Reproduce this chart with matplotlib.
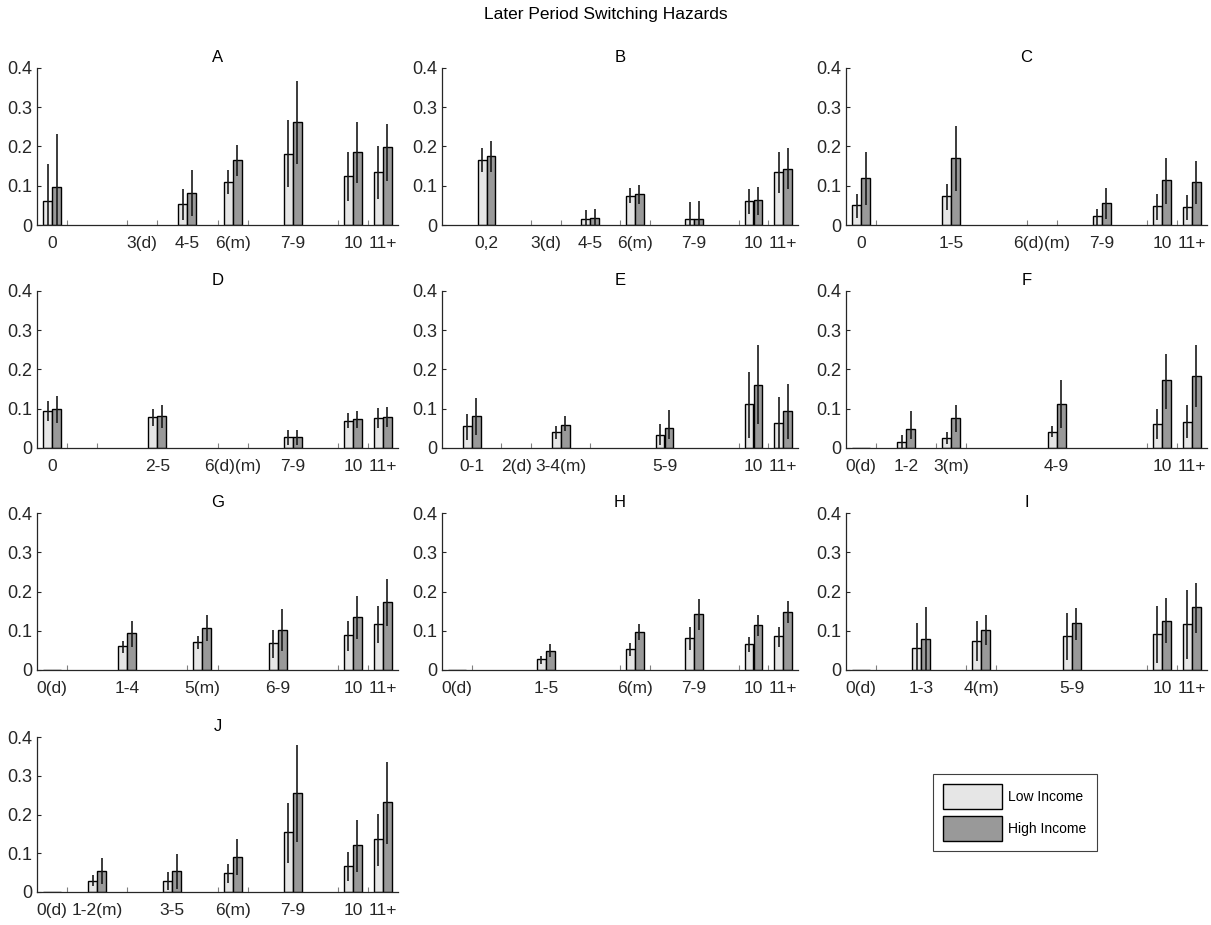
import numpy as np
import matplotlib.pyplot as plt
from matplotlib.patches import Patch

plt.rcParams['font.family'] = ['Liberation Sans', 'DejaVu Sans']

nan = np.nan

# group edges on the 0-12 axis, group labels, bar heights and CI bounds (low / high income)
A_edges = [0, 1, 3, 4, 6, 7, 10, 11, 12]
A_labels = ["0", "", "3(d)", "4-5", "6(m)", "7-9", "10", "11+"]
A_low = [0.062, nan, nan, 0.054, 0.110, 0.182, 0.125, 0.134]
A_high = [0.096, nan, nan, 0.082, 0.165, 0.262, 0.185, 0.198]
A_low_ci = [(0, 0.155), None, None, (0.013, 0.091), (0.079, 0.140), (0.098, 0.267), (0.062, 0.185), (0.066, 0.201)]
A_high_ci = [(0, 0.232), None, None, (0.023, 0.140), (0.126, 0.203), (0.156, 0.366), (0.106, 0.262), (0.111, 0.257)]

B_edges = [0, 3, 4, 6, 7, 10, 11, 12]
B_labels = ["0,2", "3(d)", "4-5", "6(m)", "7-9", "10", "11+"]
B_low = [0.166, nan, 0.016, 0.073, 0.016, 0.060, 0.134]
B_high = [0.176, nan, 0.018, 0.078, 0.016, 0.064, 0.143]
B_low_ci = [(0.134, 0.197), None, (0, 0.037), (0.055, 0.093), (0, 0.059), (0.028, 0.091), (0.081, 0.186)]
B_high_ci = [(0.134, 0.213), None, (0, 0.040), (0.054, 0.102), (0, 0.062), (0.026, 0.096), (0.091, 0.196)]

C_edges = [0, 1, 6, 7, 10, 11, 12]
C_labels = ["0", "1-5", "6(d)(m)", "7-9", "10", "11+"]
C_low = [0.051, 0.074, nan, 0.023, 0.048, 0.046]
C_high = [0.119, 0.171, nan, 0.057, 0.114, 0.110]
C_low_ci = [(0.019, 0.079), (0.038, 0.105), None, (0, 0.041), (0.013, 0.079), (0.013, 0.077)]
C_high_ci = [(0.051, 0.186), (0.087, 0.253), None, (0.016, 0.094), (0.054, 0.171), (0.054, 0.163)]

D_edges = [0, 1, 2, 6, 7, 10, 11, 12]
D_labels = ["0", "", "2-5", "6(d)(m)", "7-9", "10", "11+"]
D_low = [0.095, nan, 0.079, nan, 0.027, 0.070, 0.077]
D_high = [0.099, nan, 0.082, nan, 0.028, 0.074, 0.080]
D_low_ci = [(0.069, 0.120), None, (0.056, 0.099), None, (0.007, 0.045), (0.052, 0.090), (0.050, 0.102)]
D_high_ci = [(0.064, 0.132), None, (0.051, 0.110), None, (0.007, 0.047), (0.050, 0.095), (0.053, 0.104)]

E_edges = [0, 2, 3, 5, 10, 11, 12]
E_labels = ["0-1", "2(d)", "3-4(m)", "5-9", "10", "11+"]
E_low = [0.055, nan, 0.040, 0.033, 0.113, 0.064]
E_high = [0.082, nan, 0.059, 0.051, 0.161, 0.095]
E_low_ci = [(0.020, 0.087), None, (0.022, 0.056), (0.007, 0.060), (0.026, 0.194), (0, 0.129)]
E_high_ci = [(0.034, 0.127), None, (0.044, 0.082), (0.022, 0.096), (0.060, 0.262), (0.024, 0.164)]

F_edges = [0, 1, 3, 4, 10, 11, 12]
F_labels = ["0(d)", "1-2", "3(m)", "4-9", "10", "11+"]
F_low = [0, 0.016, 0.026, 0.041, 0.062, 0.067]
F_high = [0, 0.048, 0.076, 0.113, 0.172, 0.184]
F_low_ci = [None, (0, 0.032), (0.011, 0.041), (0.028, 0.055), (0.023, 0.099), (0.025, 0.110)]
F_high_ci = [None, (0.022, 0.094), (0.040, 0.110), (0.052, 0.172), (0.099, 0.240), (0.104, 0.262)]

G_edges = [0, 1, 5, 6, 10, 11, 12]
G_labels = ["0(d)", "1-4", "5(m)", "6-9", "10", "11+"]
G_low = [0, 0.062, 0.071, 0.068, 0.089, 0.117]
G_high = [0, 0.093, 0.106, 0.103, 0.134, 0.172]
G_low_ci = [None, (0.044, 0.075), (0.053, 0.086), (0.030, 0.103), (0.049, 0.126), (0.068, 0.163)]
G_high_ci = [None, (0.059, 0.126), (0.074, 0.139), (0.049, 0.156), (0.080, 0.188), (0.111, 0.232)]

H_edges = [0, 1, 6, 7, 10, 11, 12]
H_labels = ["0(d)", "1-5", "6(m)", "7-9", "10", "11+"]
H_low = [0, 0.028, 0.053, 0.082, 0.065, 0.087]
H_high = [0, 0.048, 0.097, 0.142, 0.114, 0.148]
H_low_ci = [None, (0.015, 0.036), (0.036, 0.069), (0.051, 0.110), (0.045, 0.084), (0.058, 0.110)]
H_high_ci = [None, (0.032, 0.065), (0.076, 0.116), (0.102, 0.181), (0.086, 0.139), (0.119, 0.177)]

I_edges = [0, 1, 4, 5, 10, 11, 12]
I_labels = ["0(d)", "1-3", "4(m)", "5-9", "10", "11+"]
I_low = [0, 0.057, 0.074, 0.086, 0.092, 0.117]
I_high = [0, 0.080, 0.103, 0.119, 0.126, 0.160]
I_low_ci = [None, (0, 0.121), (0.023, 0.125), (0.025, 0.146), (0.017, 0.163), (0.027, 0.203)]
I_high_ci = [None, (0, 0.161), (0.064, 0.140), (0.076, 0.158), (0.068, 0.183), (0.095, 0.221)]

J_edges = [0, 1, 3, 6, 7, 10, 11, 12]
J_labels = ["0(d)", "1-2(m)", "3-5", "6(m)", "7-9", "10", "11+"]
J_low = [0, 0.029, 0.029, 0.049, 0.154, 0.068, 0.136]
J_high = [0, 0.054, 0.054, 0.090, 0.255, 0.121, 0.231]
J_low_ci = [None, (0.015, 0.045), (0.006, 0.051), (0.023, 0.072), (0.076, 0.229), (0.028, 0.104), (0.066, 0.201)]
J_high_ci = [None, (0.021, 0.087), (0.008, 0.098), (0.043, 0.136), (0.128, 0.380), (0.051, 0.187), (0.124, 0.336)]

panels = [
    ("A", A_edges, A_labels, A_low, A_high, A_low_ci, A_high_ci),
    ("B", B_edges, B_labels, B_low, B_high, B_low_ci, B_high_ci),
    ("C", C_edges, C_labels, C_low, C_high, C_low_ci, C_high_ci),
    ("D", D_edges, D_labels, D_low, D_high, D_low_ci, D_high_ci),
    ("E", E_edges, E_labels, E_low, E_high, E_low_ci, E_high_ci),
    ("F", F_edges, F_labels, F_low, F_high, F_low_ci, F_high_ci),
    ("G", G_edges, G_labels, G_low, G_high, G_low_ci, G_high_ci),
    ("H", H_edges, H_labels, H_low, H_high, H_low_ci, H_high_ci),
    ("I", I_edges, I_labels, I_low, I_high, I_low_ci, I_high_ci),
    ("J", J_edges, J_labels, J_low, J_high, J_low_ci, J_high_ci),
]

LIGHT = "#e6e6e6"
DARK = "#999999"
AXC = "#262626"

W, H = 1211, 925
fig = plt.figure(figsize=(W / 100, H / 100), dpi=100)

# axes boxes in pixels
cols = [(37, 398), (442, 798), (846, 1207)]
rows = [(68, 225), (291, 448), (513, 670), (737, 892)]

bw = 0.3
for i, (name, edges, labels, low, high, low_ci, high_ci) in enumerate(panels):
    r, c = divmod(i, 3)
    x0, x1 = cols[c]
    t, b = rows[r]
    ax = fig.add_axes([x0 / W, 1 - b / H, (x1 - x0) / W, (b - t) / H])

    edges = np.array(edges, dtype=float)
    centers = (edges[:-1] + edges[1:]) / 2
    low = np.array(low, dtype=float)
    high = np.array(high, dtype=float)

    ok = ~np.isnan(low)
    ax.bar(centers[ok] - bw / 2, low[ok], width=bw, color=LIGHT, edgecolor="black", linewidth=1.0, zorder=2)
    ax.bar(centers[ok] + bw / 2, high[ok], width=bw, color=DARK, edgecolor="black", linewidth=1.0, zorder=2)

    for xc, lo_ci, hi_ci in zip(centers, low_ci, high_ci):
        if lo_ci is not None:
            ax.vlines(xc - bw / 2, lo_ci[0], lo_ci[1], color="#1a1a1a", linewidth=1.2, zorder=3)
        if hi_ci is not None:
            ax.vlines(xc + bw / 2, hi_ci[0], hi_ci[1], color="#1a1a1a", linewidth=1.2, zorder=3)

    ax.set_xlim(0, 12)
    ax.set_ylim(0, 0.4)
    ax.set_xticks(edges[1:-1])
    ax.set_xticklabels([])
    ax.set_xticks(centers, minor=True)
    ax.set_xticklabels(labels, minor=True, fontsize=12.5)
    ax.tick_params(axis="x", which="major", direction="in", length=3.5, color="#808080")
    ax.tick_params(axis="x", which="minor", length=0, pad=8, labelcolor=AXC)
    ax.set_yticks([0, 0.1, 0.2, 0.3, 0.4])
    ax.set_yticklabels(["0", "0.1", "0.2", "0.3", "0.4"], fontsize=13)
    ax.tick_params(axis="y", direction="in", length=3, pad=3.5, color=AXC, labelcolor=AXC)

    for s in ["top", "right"]:
        ax.spines[s].set_visible(False)
    for s in ["left", "bottom"]:
        ax.spines[s].set_color(AXC)
        ax.spines[s].set_linewidth(0.9)

    ax.set_title(name, fontsize=12, pad=4, color="black")

fig.suptitle("Later Period Switching Hazards", fontsize=12.5, y=1 - 14 / H, va="center")

handles = [Patch(facecolor=LIGHT, edgecolor="black", linewidth=1.0),
           Patch(facecolor=DARK, edgecolor="black", linewidth=1.0)]
leg = fig.legend(handles, ["Low Income", "High Income"], loc="upper left",
                 bbox_to_anchor=(933 / W, 1 - 774 / H), fontsize=10,
                 frameon=True, fancybox=False, framealpha=1, edgecolor="#404040",
                 handlelength=4.2, handleheight=2.4, labelspacing=0.45,
                 handletextpad=0.45, borderpad=0.75, borderaxespad=0)
leg.get_frame().set_linewidth(0.8)

fig.savefig("out.png", dpi=100)
